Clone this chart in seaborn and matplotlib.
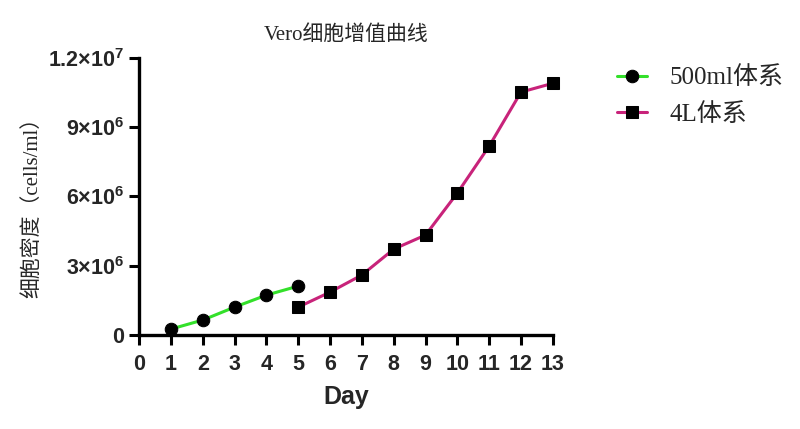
import pandas as pd
import matplotlib.pyplot as plt
import seaborn as sns

# values
days_500 = [1, 2, 3, 4, 5]
cells_500 = [0.26e6, 0.65e6, 1.21e6, 1.73e6, 2.12e6]
days_4l = [5, 6, 7, 8, 9, 10, 11, 12, 13]
cells_4l = [1.21e6, 1.86e6, 2.60e6, 3.72e6, 4.33e6, 6.15e6, 8.18e6, 10.52e6, 10.90e6]
labels = ['500ml体系', '4L体系']
y_ticks = [0, 3e6, 6e6, 9e6, 1.2e7]
y_ticklabels = ['0', r'$\mathbf{3{\times}10^{6}}$', r'$\mathbf{6{\times}10^{6}}$',
                r'$\mathbf{9{\times}10^{6}}$', r'$\mathbf{1.2{\times}10^{7}}$']

sns.set_theme(style="ticks")
plt.rcParams['font.family'] = ['Liberation Serif', 'Noto Sans CJK SC']
plt.rcParams['mathtext.fontset'] = 'custom'
plt.rcParams['mathtext.bf'] = 'Liberation Sans:bold'
plt.rcParams['mathtext.rm'] = 'Liberation Sans:bold'

df = pd.concat([
    pd.DataFrame({'Day': days_500, 'cells': cells_500, 'group': labels[0]}),
    pd.DataFrame({'Day': days_4l, 'cells': cells_4l, 'group': labels[1]}),
])

fig = plt.figure(figsize=(8, 4.29), dpi=100)
ax = fig.add_axes([0.174, 0.219, 0.517, 0.646])

sns.lineplot(data=df, x='Day', y='cells', hue='group', style='group',
             palette=['#33e02a', '#c8237a'], markers=['o', 's'], dashes=False,
             markersize=9, markeredgecolor='black', markerfacecolor='black',
             linewidth=2.2, ax=ax)

ax.set_xlim(0, 13)
ax.set_ylim(0, 1.2e7)
ax.set_xticks(range(0, 14))
ax.set_yticks(y_ticks)
ax.set_yticklabels(y_ticklabels)
for lab in ax.get_xticklabels() + ax.get_yticklabels():
    lab.set_family('Liberation Sans')
    lab.set_fontweight('bold')
    lab.set_fontsize(15.5)
ax.tick_params(width=2.2, length=7, color='black')
ax.tick_params(axis='x', pad=7)
for s in ['left', 'bottom']:
    ax.spines[s].set_linewidth(2.4)
    ax.spines[s].set_color('black')
sns.despine(ax=ax)
for m in ax.lines:
    m.set_clip_on(False)

ax.set_xlabel('Day', family='Liberation Sans', fontweight='bold', fontsize=18, labelpad=7)
ax.set_ylabel('细胞密度（cells/ml）', fontsize=15)
ax.yaxis.set_label_coords(-0.235, 0.48)
ax.set_title('Vero细胞增值曲线', fontsize=15, pad=13)

leg = ax.legend(loc='upper left', bbox_to_anchor=(1.1, 1.05), frameon=False,
                fontsize=18, handlelength=1.2, labelspacing=0.55, handletextpad=0.9)
for h in leg.legend_handles:
    h.set_markerfacecolor('black')
    h.set_markeredgecolor('black')

fig.savefig('out.png', dpi=100)
